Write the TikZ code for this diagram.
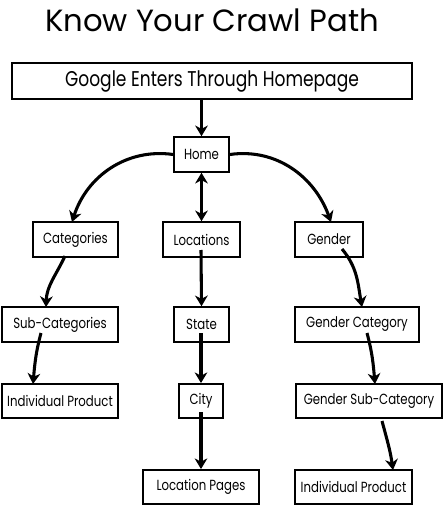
\documentclass[tikz,border=0pt]{standalone}
\usepackage{fontspec}
\setmainfont{Poppins}
\newfontfamily\boxfont[FakeStretch=0.8]{Poppins}
\usetikzlibrary{arrows.meta}
\begin{document}
\begin{tikzpicture}[x=0.75pt,y=-0.75pt,
  box/.style={draw, line width=1.4pt, inner sep=0pt, minimum height=26pt, font=\boxfont\fontsize{11}{12}\selectfont},
  conn/.style={line width=2.3pt, -{Stealth[length=8pt,width=9.5pt,inset=2.5pt]}},
  conn2/.style={line width=2.3pt, {Stealth[length=8pt,width=9.5pt,inset=2.5pt]}-{Stealth[length=8pt,width=9.5pt,inset=2.5pt]}}]
\useasboundingbox (0,0) rectangle (445,506);
\node[font=\fontsize{23}{26}\selectfont] (title) at (212,20) {Know Your Crawl Path};
\node[box, minimum width=300pt, minimum height=27pt, font=\boxfont\fontsize{16}{18}\selectfont] (top) at (212,81) {Google Enters Through Homepage};
\node[box, minimum width=41pt] (home) at (201.5,154.5) {Home};
\node[box, minimum width=64pt] (cat) at (75.5,239.5) {Categories};
\node[box, minimum width=58pt] (loc) at (201.5,239.5) {Locations};
\node[box, minimum width=51pt] (gen) at (329,239.5) {Gender};
\node[box, minimum width=87pt] (sub) at (60,324.5) {Sub-Categories};
\node[box, minimum width=41pt] (state) at (201.5,324.5) {State};
\node[box, minimum width=93pt] (gcat) at (357,324.5) {Gender Category};
\node[box, minimum width=87pt, minimum height=25.5pt] (ipl) at (60,401) {Individual Product};
\node[box, minimum width=33pt, minimum height=25.5pt] (city) at (201,401) {City};
\node[box, minimum width=110pt, minimum height=25.5pt] (gsc) at (369,401) {Gender Sub-Category};
\node[box, minimum width=87pt, minimum height=25.5pt] (locp) at (201,487) {Location Pages};
\node[box, minimum width=88pt, minimum height=25.5pt] (ipr) at (353.5,487) {Individual Product};
% start coordinates inside boxes
\coordinate (catS) at (65,256);
\coordinate (subS) at (41,333);
\coordinate (locS) at (201,250);
\coordinate (stateS) at (201,333);
\coordinate (cityS) at (201,412);
\coordinate (genS) at (342,249);
\coordinate (gcatS) at (367,333);
\coordinate (gscS) at (382,421);
% end coordinates on top edges
\coordinate (catN) at (72,222);
\coordinate (genN) at (331,222);
\coordinate (subN) at (46,307);
\coordinate (iplN) at (33,384);
\coordinate (gcatN) at (362,307);
\coordinate (gscN) at (375,384);
\coordinate (iprN) at (393,470);
\draw[conn] (top.south -| home.north) -- (home.north);
\draw[conn2] (home.south) -- (loc.north);
\draw[conn] (home.west) to[out=172,in=72] (catN);
\draw[conn] (home.east) to[out=8,in=110] (genN);
\draw[conn] (catS) to[out=-115,in=88] (subN);
\draw[conn] (subS) to[out=-105,in=85] (iplN);
\draw[conn] (locS) -- (state.north);
\draw[conn] (stateS) -- (city.north);
\draw[conn] (cityS) -- (locp.north);
\draw[conn] (genS) to[out=-50,in=100] (gcatN);
\draw[conn] (gcatS) to[out=-75,in=95] (gscN);
\draw[conn] (gscS) to[out=-75,in=98] (iprN);
\end{tikzpicture}
\end{document}
